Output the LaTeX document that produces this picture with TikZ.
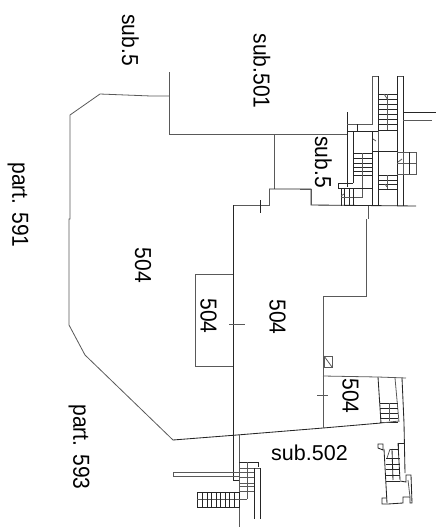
\documentclass[tikz,border=0pt]{standalone}
\usepackage{fontspec}
\setmainfont{Liberation Sans}
\newcommand{\tallr}[1]{\scalebox{1}[1.1]{#1}}
\tikzset{
  wall/.style={draw=black!85,line width=0.85pt},
  thin/.style={draw=black!65,line width=0.8pt},
  lab/.style={font=\fontsize{21.5}{23}\selectfont,inner sep=0pt,text=black},
  vlab/.style={font=\fontsize{21}{23}\selectfont,inner sep=0pt,text=black,rotate=-90}
}
\begin{document}
\begin{tikzpicture}[x=1pt,y=-1pt]
\useasboundingbox (0,0) rectangle (445,528);
% main boundaries
\draw[thin] (169,72)--(169,134)--(347,134);
\draw[thin] (169,96)--(151,96)--(100,94)--(70,115)--(70,219)--(69,219)--(69,325)--(85,355)--(173,440);
\draw[wall] (173,440)--(237,435)--(323,428)--(381,423);
\draw[thin] (274,134)--(274,189);
\draw[wall] (269,189)--(311,189)--(311,205)--(416,206);
\draw[thin] (269,189)--(269,205)--(233,205);
\draw[wall] (233,205)--(233,480)--(239,480);
\draw[wall] (260,200)--(260,213);
\draw[thin] (195,274)--(233,274);
\draw[thin] (195,274)--(195,366)--(233,366);
\draw[thin] (229,324)--(245,324);
\draw[thin] (368,206)--(368,219);
\draw[thin] (366,219)--(366,296)--(323,296)--(323,428);
\draw[thin] (324,356) rectangle (332,367);
\draw[thin] (324,356)--(332,367);
\draw[thin] (323,376)--(378,377)--(406,378);
\draw[thin] (317,395)--(328,395);
% upper stairs
\draw[thin] (300,189)--(311,189)--(311,205);
\draw[wall] (347,112)--(347,187);
\draw[wall] (353,131)--(353,183);
\draw[thin] (372,76)--(372,124)--(347,124);
\draw[wall] (378,76)--(378,131)--(347,131);
\draw[thin] (372,76)--(378,76);
\draw[thin] (397,76)--(403,76);
\draw[wall] (397,76)--(397,206);
\draw[wall] (403,76)--(403,206);
\draw[wall] (403,112)--(436,112);
\draw[thin] (403,120)--(432,120);
\foreach \y in {94,99,104,109,114,119,124,130} \draw[wall] (378,\y)--(397,\y);
\draw[thin] (387,94)--(387,130);
\draw[thin] (384,94)--(388,100);
\draw[wall] (357,124)--(357,131);
\draw[wall] (372,131)--(372,151);
\draw[thin] (378,131)--(378,151);
\draw[wall] (372,151)--(378,151);
\draw[wall] (372,151)--(372,206);
\draw[wall] (378,151)--(378,206);
\draw[thin] (373,139)--(376,141);
\foreach \y in {153,158,163,167,171,175} \draw[wall] (353,\y)--(372,\y);
\draw[thin] (362,153)--(362,197)--(353,197);
\draw[wall] (353,183)--(338,183)--(338,188)--(372,188);
\foreach \x in {341,344,349,353} \draw[wall] (\x,188)--(\x,206);
\draw[thin] (341,197)--(353,197);
\draw[thin] (341,196)--(344,194);
\draw[wall] (378,151)--(397,151);
\foreach \y in {175,180,184,189} \draw[wall] (378,\y)--(397,\y);
\draw[thin] (387,175)--(387,189);
\draw[thin] (385,184)--(387,187);
\draw[thin] (397,152)--(416,152)--(416,174)--(397,174);
\draw[thin] (397,163)--(416,163);
\draw[thin] (403,152)--(403,174);
\draw[wall] (409,152)--(409,174);
\draw[thin] (398,162)--(402,159);
% right lower stairs
\draw[wall] (378,377)--(381,423);
\draw[thin] (395,378)--(399,422);
\draw[wall] (402,378)--(404,423)--(405,473);
\foreach \y in {403,408,413,418,422} \draw[wall] (380,\y)--(398,\y);
\draw[thin] (389,403)--(389,421);
\draw[thin] (381,423)--(399,421);
\draw[wall] (378,444)--(383,444)--(383,450)--(378,448)--cycle;
\draw[wall] (384,449)--(387,503);
\draw[wall] (390,449)--(398,449)--(398,443)--(404,443);
\draw[wall] (398,443)--(400,480);
\draw[wall] (392,449)--(393,480);
\foreach \y in {458,464,469,475,481} \draw[wall] (386,\y)--(400,\y);
\draw[thin] (390,449)--(387,458);
\draw[wall] (400,481)--(406,482)--(406,475)--(411,475)--(412,503)--(410,503)--(410,497)--(403,497)--(403,503)--(388,504)--(382,504)--(382,498)--(387,498);
\draw[thin] (408,480)--(410,497);
% lower left stairs
\draw[thin] (239,435)--(239,527);
\draw[wall] (239,462)--(258,462)--(258,467);
\draw[thin] (239,468)--(260,468);
\draw[wall] (254,468)--(254,519);
\draw[wall] (260,468)--(260,519);
\draw[thin] (247,462)--(247,499);
\foreach \y in {472,477,483,486,491} \draw[thin] (239,\y)--(254,\y);
\draw[wall] (197,492) rectangle (239,507);
\draw[thin] (197,499)--(247,499);
\foreach \x in {202,207,211,216,220,225,229,234} \draw[wall] (\x,492)--(\x,507);
\draw[thin] (173,472) rectangle (239,476);
% labels
\node[vlab] (s1) at (130.5,40) {\tallr{sub.5}};
\node[vlab] (s2) at (262,71) {\tallr{sub.501}};
\node[vlab] (s3) at (323.5,162) {\tallr{sub.5}};
\node[vlab] (p1) at (18,205) {\tallr{part. 591}};
\node[vlab] (n1) at (143,265.5) {\tallr{504}};
\node[vlab] (n2) at (208.5,316) {\tallr{504}};
\node[vlab] (n3) at (277.5,317) {\tallr{504}};
\node[vlab] (n4) at (350.5,396) {\tallr{504}};
\node[vlab] (p2) at (79,447) {\tallr{part. 593}};
\node[lab] (s4) at (309.5,453) {sub.502};
\end{tikzpicture}
\end{document}
